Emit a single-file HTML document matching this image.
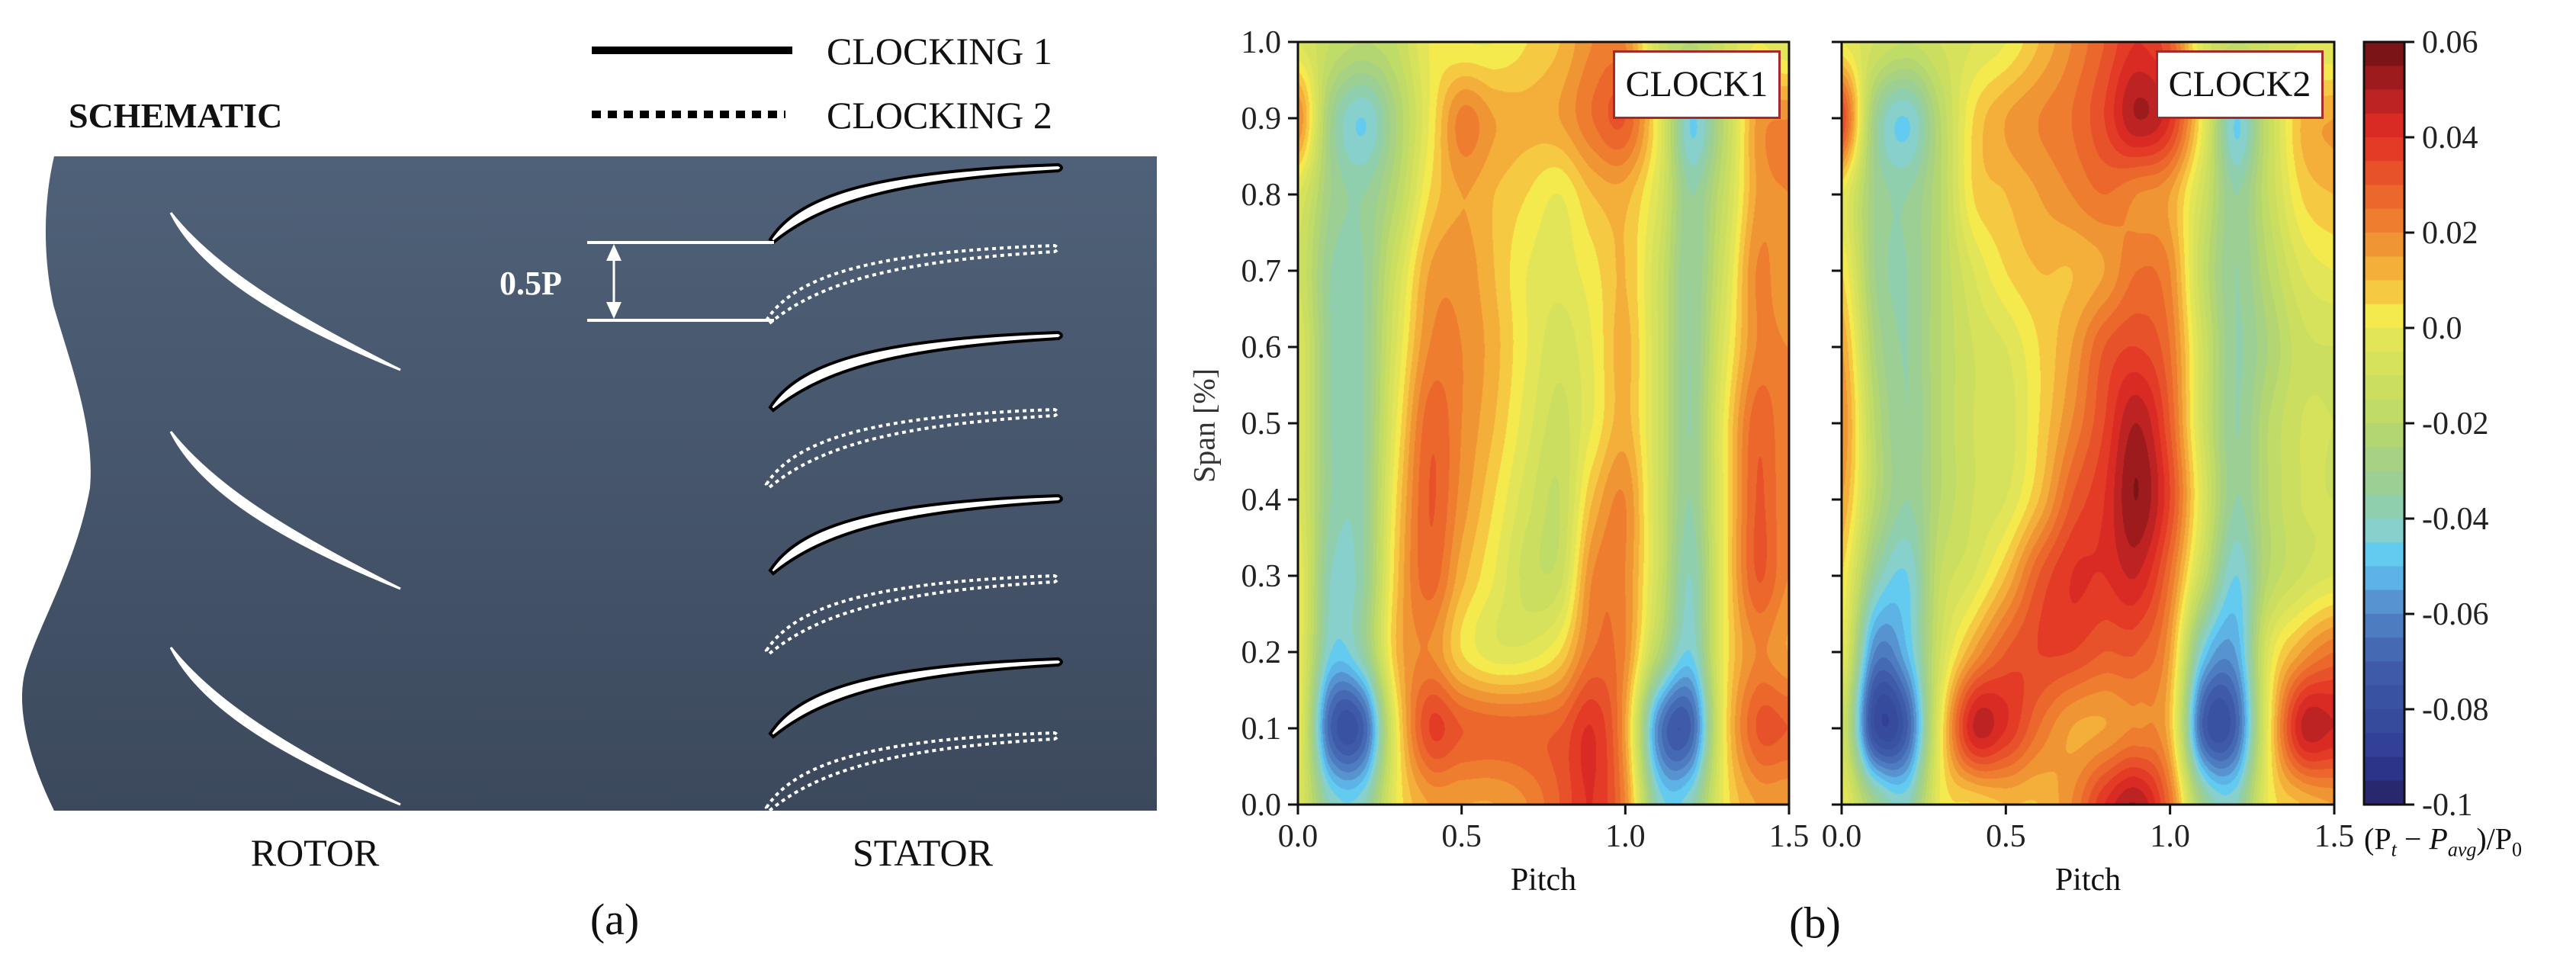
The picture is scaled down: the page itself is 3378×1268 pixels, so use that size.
<!DOCTYPE html>
<html><head><meta charset="utf-8">
<style>
html,body{margin:0;padding:0;background:#fff;}
body{width:3378px;height:1268px;position:relative;overflow:hidden;font-family:"Liberation Serif",serif;}
.t{position:absolute;white-space:nowrap;color:#111;}
canvas{position:absolute;}
</style></head>
<body>
<svg width="1560" height="1268" style="position:absolute;left:0;top:0">
<defs><linearGradient id="bg" x1="0" y1="0" x2="0" y2="1"><stop offset="0" stop-color="#4f6178"/><stop offset="1" stop-color="#3c495d"/></linearGradient></defs>
<path d="M71,205 L1517,205 L1517,1063 L71,1063 C40,1000 20,930 33,880 C50,820 100,740 118,640 C125,560 90,470 70,400 C55,330 58,260 71,205 Z" fill="url(#bg)"/>
<g id="blades"></g>
<line x1="770" y1="318" x2="1015" y2="318" stroke="#fff" stroke-width="4"/>
<line x1="770" y1="420" x2="1015" y2="420" stroke="#fff" stroke-width="4"/>
<line x1="805" y1="335" x2="805" y2="403" stroke="#fff" stroke-width="3"/>
<polygon points="805,320 795,342 815,342" fill="#fff"/>
<polygon points="805,418 795,396 815,396" fill="#fff"/>
<text x="655" y="386" fill="#fff" font-family="Liberation Serif" font-weight="bold" font-size="44">0.5P</text>
<line x1="776" y1="66" x2="1039" y2="66" stroke="#000" stroke-width="10"/>
<line x1="776" y1="150" x2="1030" y2="150" stroke="#000" stroke-width="10" stroke-dasharray="12 9"/>
<text x="1084" y="84" font-family="Liberation Serif" font-size="50" fill="#111">CLOCKING 1</text>
<text x="1084" y="168" font-family="Liberation Serif" font-size="50" fill="#111">CLOCKING 2</text>
<text x="90" y="167" font-family="Liberation Serif" font-weight="bold" font-size="46" fill="#111">SCHEMATIC</text>
<text x="413" y="1135" text-anchor="middle" font-family="Liberation Serif" font-size="50" fill="#111">ROTOR</text>
<text x="1210" y="1135" text-anchor="middle" font-family="Liberation Serif" font-size="50" fill="#111">STATOR</text>
<text x="806" y="1225" text-anchor="middle" font-family="Liberation Serif" font-size="58" fill="#111">(a)</text>
</svg>

<canvas id="c1" width="644" height="1000" style="left:1702px;top:55px"></canvas>
<canvas id="c2" width="646" height="1000" style="left:2415px;top:55px"></canvas>
<canvas id="cb" width="53" height="1000" style="left:3100px;top:55px"></canvas>
<svg id="ax" width="3378" height="1268" style="position:absolute;left:0;top:0"></svg>

<div class="t" style="left:2115px;top:66px;width:214px;height:84px;border:3px solid #a52a2a;background:#fff;font-size:48px;line-height:84px;text-align:center">CLOCK1</div>
<div class="t" style="left:2827px;top:66px;width:214px;height:84px;border:3px solid #a52a2a;background:#fff;font-size:48px;line-height:84px;text-align:center">CLOCK2</div>
<div class="t" style="left:1579px;top:558px;font-size:40px;transform:translate(-50%,-50%) rotate(-90deg);color:#333">Span [%]</div>
<div class="t" style="left:2024px;top:1154px;font-size:42px;transform:translate(-50%,-50%)">Pitch</div>
<div class="t" style="left:2738px;top:1154px;font-size:42px;transform:translate(-50%,-50%)">Pitch</div>
<div class="t" style="left:3100px;top:1103px;font-size:40px;transform:translateY(-50%)">(P<sub style="font-size:26px;font-style:italic">t</sub> − <i>P</i><sub style="font-size:26px;font-style:italic">avg</sub>)/P<sub style="font-size:26px">0</sub></div>
<div class="t" style="left:2380px;top:1210px;font-size:58px;transform:translate(-50%,-50%)">(b)</div>

<script>
// ----- data -----
const pitchVals=[0,0.1,0.2,0.3,0.4,0.5,0.6,0.7,0.8,0.9,1.0,1.1,1.2,1.3,1.4,1.5];
const spanVals=[1.0,0.9,0.8,0.7,0.6,0.5,0.4,0.3,0.2,0.1,0.0];
const clock1=[
[-0.005,-0.015,-0.02,-0.015,0.0,0.0,0.0,0.005,0.01,0.02,0.02,-0.01,-0.02,-0.01,0.0,-0.005],
[0.02,-0.03,-0.045,-0.025,0.0,0.022,0.015,0.012,0.015,0.025,0.03,0.0,-0.045,-0.02,0.015,0.02],
[-0.005,-0.03,-0.035,-0.02,0.005,0.015,0.01,0.005,0.0,0.01,0.012,-0.005,-0.035,-0.015,0.015,0.02],
[-0.01,-0.035,-0.035,-0.01,0.015,0.018,0.01,0.0,-0.003,0.003,0.01,-0.01,-0.035,-0.01,0.02,0.015],
[-0.005,-0.035,-0.035,-0.005,0.02,0.02,0.012,0.0,-0.008,0.0,0.012,-0.01,-0.035,-0.005,0.02,0.02],
[-0.005,-0.035,-0.035,0.0,0.028,0.02,0.01,-0.003,-0.012,0.0,0.012,-0.01,-0.035,0.0,0.028,0.02],
[-0.005,-0.035,-0.035,0.005,0.03,0.018,0.005,-0.008,-0.015,0.01,0.02,-0.01,-0.035,0.0,0.03,0.02],
[0.0,-0.04,-0.035,0.008,0.028,0.012,0.0,-0.012,-0.012,0.02,0.02,-0.01,-0.04,0.0,0.03,0.02],
[0.0,-0.045,-0.035,0.01,0.02,0.005,-0.003,-0.003,0.005,0.025,0.02,-0.02,-0.045,0.0,0.02,0.015],
[0.0,-0.07,-0.07,0.0,0.035,0.03,0.028,0.028,0.03,0.04,0.015,-0.06,-0.07,0.0,0.03,0.03],
[-0.005,-0.04,-0.04,0.0,0.015,0.015,0.015,0.02,0.03,0.04,0.02,-0.04,-0.04,0.0,0.015,0.015]];
const clock2=[
[0.0,-0.01,-0.015,-0.01,-0.005,0.0,0.01,0.02,0.03,0.04,0.03,-0.005,-0.015,-0.01,-0.005,-0.005],
[0.035,-0.03,-0.045,-0.02,0.005,0.015,0.02,0.025,0.035,0.05,0.04,0.0,-0.045,-0.015,0.01,0.015],
[0.0,-0.03,-0.035,-0.02,0.005,0.01,0.015,0.02,0.025,0.02,0.015,-0.01,-0.035,-0.015,0.005,0.01],
[0.005,-0.03,-0.035,-0.02,-0.005,0.005,0.01,0.01,0.015,0.025,0.02,-0.015,-0.035,-0.02,-0.005,0.0],
[0.015,-0.025,-0.035,-0.02,-0.01,-0.005,0.005,0.015,0.03,0.035,0.025,-0.01,-0.035,-0.025,-0.012,-0.01],
[0.02,-0.02,-0.035,-0.02,-0.01,-0.008,0.005,0.02,0.035,0.05,0.03,-0.01,-0.035,-0.02,-0.01,-0.01],
[0.015,-0.02,-0.035,-0.02,-0.01,-0.005,0.01,0.03,0.04,0.055,0.035,-0.005,-0.035,-0.02,-0.01,-0.01],
[0.005,-0.035,-0.045,-0.015,-0.005,0.01,0.03,0.04,0.04,0.045,0.025,-0.015,-0.045,-0.02,-0.01,-0.005],
[0.0,-0.06,-0.05,-0.01,0.015,0.03,0.035,0.035,0.03,0.03,0.015,-0.045,-0.055,-0.005,0.015,0.025],
[-0.01,-0.08,-0.07,0.0,0.045,0.04,0.025,0.015,0.015,0.02,0.01,-0.07,-0.07,0.0,0.045,0.045],
[0.0,-0.03,-0.04,0.0,0.005,0.01,0.01,0.02,0.04,0.05,0.025,-0.03,-0.04,0.0,0.01,0.015]];
const levelColors=['#7b1416','#9e1b1d','#bd2323','#d92b24','#e43b26','#e8522a','#eb672c','#ee7d30','#f09534','#f4ae3a','#f6c943','#f4ea4d','#e2e557','#d6e25b','#cbde60','#bfdb68','#b3d673','#a7d283','#9ccf94','#90cfae','#87d0cc','#63cbf0','#5db3e5','#5794cf','#4d7cc0','#4569b2','#3e5aa8','#3a52a2','#374b9d','#324097','#2c348a','#29286e'];
const vMax=0.06, vMin=-0.1;
const xTicks=[0,0.5,1.0,1.5];
const xTickLabels=['0.0','0.5','1.0','1.5'];
const yTicks=[0,0.1,0.2,0.3,0.4,0.5,0.6,0.7,0.8,0.9,1.0];
const yTickLabels=['0.0','0.1','0.2','0.3','0.4','0.5','0.6','0.7','0.8','0.9','1.0'];
const cbTicks=[0.06,0.04,0.02,0.0,-0.02,-0.04,-0.06,-0.08,-0.1];
const cbTickLabels=['0.06','0.04','0.02','0.0','-0.02','-0.04','-0.06','-0.08','-0.1'];

// ----- helpers -----
function hex(c){return [parseInt(c.substr(1,2),16),parseInt(c.substr(3,2),16),parseInt(c.substr(5,2),16)];}
const rgb=levelColors.map(hex);
function colorIdx(v){let i=Math.floor((vMax-v)/((vMax-vMin)/levelColors.length));return Math.max(0,Math.min(levelColors.length-1,i));}
function cr(p0,p1,p2,p3,t){return 0.5*((2*p1)+(-p0+p2)*t+(2*p0-5*p1+4*p2-p3)*t*t+(-p0+3*p1-3*p2+p3)*t*t*t);}
function sample(g,pitch,span){
  const nx=pitchVals.length,ny=spanVals.length;
  const fx=(pitch-pitchVals[0])/(pitchVals[1]-pitchVals[0]);
  const fy=(spanVals[0]-span)/(spanVals[0]-spanVals[1]);
  const ix=Math.max(0,Math.min(nx-2,Math.floor(fx))),iy=Math.max(0,Math.min(ny-2,Math.floor(fy)));
  const tx=fx-ix,ty=fy-iy;
  const G=(r,c)=>g[Math.max(0,Math.min(ny-1,r))][Math.max(0,Math.min(nx-1,c))];
  const rows=[];
  for(let r=-1;r<3;r++){rows.push(cr(G(iy+r,ix-1),G(iy+r,ix),G(iy+r,ix+1),G(iy+r,ix+2),tx));}
  return cr(rows[0],rows[1],rows[2],rows[3],ty);
}
function drawField(id,g){
  const cv=document.getElementById(id),ctx=cv.getContext('2d'),W=cv.width,H=cv.height;
  const im=ctx.createImageData(W,H);
  for(let y=0;y<H;y++){const span=1-y/(H-1);
    for(let x=0;x<W;x++){const pitch=1.5*x/(W-1);
      const c=rgb[colorIdx(sample(g,pitch,span))];const k=(y*W+x)*4;
      im.data[k]=c[0];im.data[k+1]=c[1];im.data[k+2]=c[2];im.data[k+3]=255;}}
  ctx.putImageData(im,0,0);
}
drawField('c1',clock1);drawField('c2',clock2);
(function(){const cv=document.getElementById('cb'),ctx=cv.getContext('2d');
  const h=cv.height/levelColors.length;
  levelColors.forEach((c,i)=>{ctx.fillStyle=c;ctx.fillRect(0,i*h,cv.width,h+1);});})();

// ----- axes -----
const NS='http://www.w3.org/2000/svg';
const ax=document.getElementById('ax');
function el(tag,attrs){const e=document.createElementNS(NS,tag);for(const k in attrs)e.setAttribute(k,attrs[k]);ax.appendChild(e);return e;}
const panels=[{x0:1702,x1:2346,labels:true},{x0:2415,x1:3061,labels:false}];
const yTop=55,yBot=1055;
const yScale=s=>yBot-(s)*(yBot-yTop);
panels.forEach((p,pi)=>{
  const xScale=v=>p.x0+v/1.5*(p.x1-p.x0);
  const fr=el('rect',{x:p.x0,y:yTop,width:p.x1-p.x0,height:yBot-yTop,fill:'none',stroke:'#111','stroke-width':3});
  
  
  xTicks.forEach((v,i)=>{
    const X=xScale(v);
    const l=el('line',{x1:X,y1:yBot,x2:X,y2:yBot+13,stroke:'#111','stroke-width':3});
    
    
    const t=el('text',{x:X,y:yBot+55,'text-anchor':'middle','font-family':'Liberation Serif','font-size':42,fill:'#222'});
    t.textContent=xTickLabels[i];
    
    
  });
  yTicks.forEach((v,i)=>{
    const Y=yScale(v);
    const l=el('line',{x1:p.x0-13,y1:Y,x2:p.x0,y2:Y,stroke:'#111','stroke-width':3});
    
    
    if(p.labels){
      const t=el('text',{x:p.x0-22,y:Y+14,'text-anchor':'end','font-family':'Liberation Serif','font-size':42,fill:'#222'});
      t.textContent=yTickLabels[i];
      
      
    }
  });
});
const cbx0=3100,cbx1=3153;
const cbFrame=el('rect',{x:cbx0,y:yTop,width:cbx1-cbx0,height:yBot-yTop,fill:'none',stroke:'#111','stroke-width':3});


cbTicks.forEach((v,i)=>{
  const Y=yTop+(vMax-v)/(vMax-vMin)*(yBot-yTop);
  const l=el('line',{x1:cbx1,y1:Y,x2:cbx1+13,y2:Y,stroke:'#111','stroke-width':3});
  
  
  const t=el('text',{x:3176,y:Y+14,'font-family':'Liberation Serif','font-size':42,fill:'#222'});
  t.textContent=cbTickLabels[i];
  
  
});

// ----- blades -----
const bl=document.getElementById('blades');
function add(tag,attrs,name){const e=document.createElementNS(NS,tag);for(const k in attrs)e.setAttribute(k,attrs[k]);bl.appendChild(e);
  
  
  return e;}
const rotorLE=[[224,279],[224,566],[224,849]];
rotorLE.forEach(([x,y])=>{
  add('path',{d:`M${x},${y} C${x+40},${y+80} ${x+150},${y+145} ${x+301},${y+206} C${x+150},${y+130} ${x+55},${y+70} ${x},${y} Z`,fill:'#fff',stroke:'#fff','stroke-width':3},'rotor-blade');
});
function stator(x,y,dotted){
  const d=`M${x},${y} C${x+40},${y-62} ${x+150},${y-90} ${x+378},${y-98} Q${x+386},${y-94} ${x+378},${y-90} C${x+170},${y-78} ${x+70},${y-50} ${x+4},${y+4} Z`;
  if(dotted) add('path',{d,fill:'none',stroke:'#fff','stroke-width':4,'stroke-dasharray':'5 5'},'stator-blade-clocking2');
  else add('path',{d,fill:'#fff',stroke:'#000','stroke-width':4},'stator-blade-clocking1');
}
[314,534,748,962].forEach(y=>stator(1010,y,false));
[420,635,853,1059].forEach(y=>stator(1005,y,true));
</script>
</body></html>
